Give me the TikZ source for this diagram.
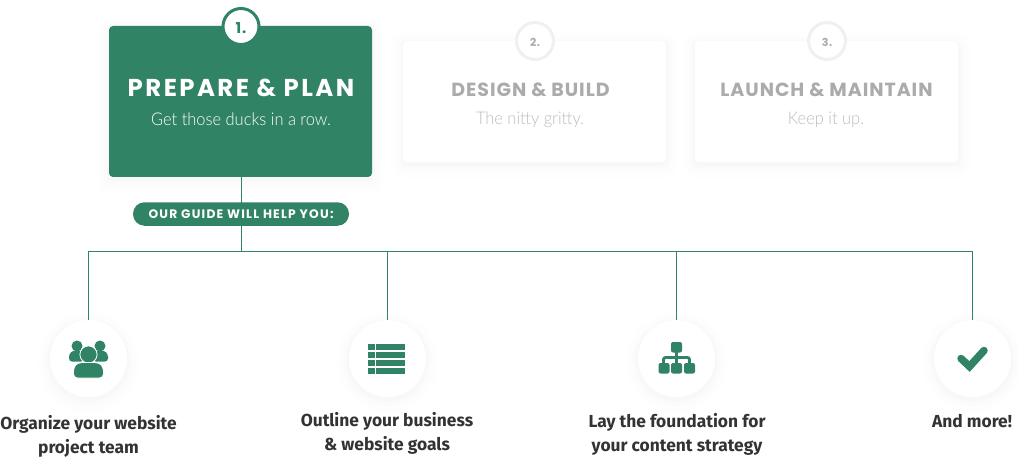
\documentclass[tikz,border=0pt]{standalone}
\usepackage{fontspec}
\setmainfont{Fira Sans}
\newfontfamily\headfont[LetterSpace=10]{Poppins}
\newfontfamily\softhead[LetterSpace=5]{Poppins}
\newfontfamily\pillfont[LetterSpace=10]{Poppins}
\newfontfamily\subfont[FakeStretch=.94]{Lato Light}
\usepackage{xcolor}
\usepackage{tikz}
\usetikzlibrary{positioning,calc}
\definecolor{leaf}{HTML}{318365}
\definecolor{ink}{HTML}{333333}
\definecolor{mute}{HTML}{ABABAB}
\definecolor{mutesub}{HTML}{BDBDBD}
\definecolor{halo}{HTML}{F0F0F0}

\begin{document}
\begin{tikzpicture}[
  x=1pt, y=-1pt,
  softer/.style={
    preaction={draw=black, draw opacity=.004, line width=26pt, transform canvas={yshift=-4pt}},
    preaction={draw=black, draw opacity=.005, line width=18pt, transform canvas={yshift=-4pt}},
    preaction={draw=black, draw opacity=.007, line width=11pt, transform canvas={yshift=-3pt}},
    preaction={draw=black, draw opacity=.012, line width=5pt, transform canvas={yshift=-2pt}},
  },
  card/.style={rectangle, rounded corners=4pt, inner sep=0pt, fill=white, softer},
  badge/.style={circle, minimum size=37pt, inner sep=0pt, fill=white, draw=halo, line width=3pt, text=mute, font=\softhead\bfseries\fontsize{11}{13}\selectfont},
  title/.style={font=\softhead\bfseries\fontsize{19}{22}\selectfont, text=mute, inner sep=0pt},
  tagline/.style={font=\subfont\fontsize{17.5}{21}\selectfont, text=mutesub, inner sep=0pt},
  spot/.style={circle, minimum size=77pt, inner sep=0pt, fill=white, softer},
  caption/.style={font=\bfseries\fontsize{17.4}{24}\selectfont, text=ink, align=center, inner sep=0pt},
  wire/.style={draw=leaf, line width=1pt},
]
\useasboundingbox (0,0) rectangle (1019,457);
% cards
\node[card, minimum width=263pt, minimum height=151pt, fill=leaf] (prepare) at (240.5,101.5) {};
\node[card, minimum width=263pt, minimum height=121pt] (design) at (534.5,101.5) {};
\node[card, minimum width=263pt, minimum height=121pt] (launch) at (826.5,101.5) {};
\node[badge, minimum size=36pt, draw=leaf, text=leaf, fill=white, font=\softhead\bfseries\fontsize{15}{16}\selectfont] (one) at (241,26.5) {\raisebox{-2pt}[\height][0pt]{1.}};
\node[badge] (two) at (535,41) {\raisebox{-1pt}[\height][0pt]{2.}};
\node[badge] (three) at (827,41) {\raisebox{-1pt}[\height][0pt]{3.}};
\node[title, text=white, font=\headfont\bfseries\fontsize{24.4}{26}\selectfont] (preparehead) at (241,87.5) {PREPARE \& PLAN};
\node[tagline, text=white] (preparesub) at (241,119) {Get those ducks in a row.};
\node[title] (designhead) at (530.5,89.5) {DESIGN \& BUILD};
\node[tagline] (designsub) at (530,120) {The nitty gritty.};
\node[title] (launchhead) at (826.5,89.5) {LAUNCH \& MAINTAIN};
\node[tagline] (launchsub) at (826,120) {Keep it up.};
% guide
\coordinate (hub) at (241.5,251.5);
\node[spot] (team) at (88.5,358.5) {};
\node[spot] (goals) at (387.5,358.5) {};
\node[spot] (strategy) at (676.5,358.5) {};
\node[spot] (more) at (972.5,358.5) {};
\draw[wire] (prepare.south -| hub) -- (hub);
\draw[wire] (hub) -| (team);
\draw[wire] (hub) -| (goals);
\draw[wire] (hub) -| (strategy);
\draw[wire] (hub) -| (more);
\node[fill=leaf, rounded corners=11.5pt, minimum width=216pt, minimum height=23.5pt, inner sep=0pt, text=white, font=\pillfont\bfseries\fontsize{12.3}{13}\selectfont] (guide) at (241,214) {OUR GUIDE WILL HELP YOU:};
% people
\fill[leaf] (77,346) circle (5.5pt) (100,346) circle (5.5pt);
\fill[leaf, rounded corners=3pt] (69,361.5) -- (69,354) -- (73,350.5) -- (84,350.5) -- (84,361.5) -- cycle;
\fill[leaf, rounded corners=3pt] (108,361.5) -- (108,354) -- (104,350.5) -- (93,350.5) -- (93,361.5) -- cycle;
\fill[leaf, draw=white, line width=.8pt] (88.5,354.5) circle (8.6pt);
\fill[leaf, draw=white, line width=.8pt, rounded corners=4pt] (73.5,378) -- (73.5,367) -- (78,362.5) -- (99,362.5) -- (103.5,367) -- (103.5,378) -- cycle;
% list
\foreach \rowy in {344,352,360,368} {
  \fill[leaf] (368.3,\rowy) rectangle (374.5,\rowy+5.5);
  \fill[leaf] (376.3,\rowy) rectangle (404.8,\rowy+5.5);
}
% org chart
\draw[leaf, line width=2.8pt, rounded corners=2pt] (663.5,364) -- (663.5,357.5) -- (689.5,357.5) -- (689.5,364);
\draw[leaf, line width=2.8pt] (676.5,350) -- (676.5,364);
\fill[leaf, rounded corners=2pt] (671,342) rectangle (682,352.5);
\foreach \boxx in {658.5,671,684} {
  \fill[leaf, rounded corners=2pt] (\boxx,363) rectangle (\boxx+11,373.5);
}
% check
\draw[leaf, line width=7.5pt, line cap=round, line join=miter] (961,358.5) -- (969.5,366.5) -- (984,350.5);
% captions
\node[caption] (teamtext) at (88.5,436) {Organize your website\\project team};
\node[caption] (goalstext) at (387,433) {Outline your business\\\& website goals};
\node[caption] (strategytext) at (677,434) {Lay the foundation for\\your content strategy};
\node[caption] (moretext) at (972,421) {And more!};
\end{tikzpicture}
\end{document}
